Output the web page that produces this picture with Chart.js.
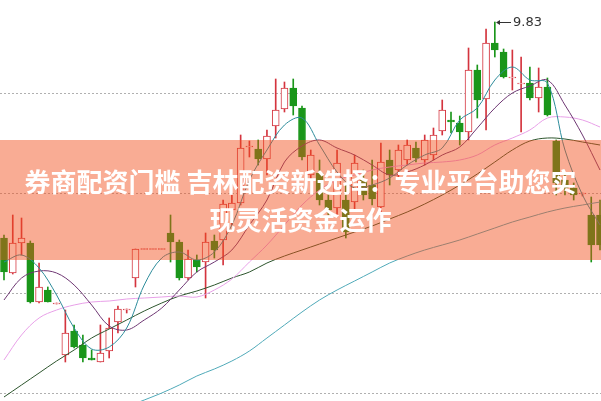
<!DOCTYPE html>
<html>
<head>
<meta charset="utf-8">
<script src="https://cdn.jsdelivr.net/npm/chart.js@4.4.0/dist/chart.umd.min.js"></script>
<style>
  html, body { margin: 0; padding: 0; background: #fff; }
  #wrap { position: relative; width: 601px; height: 401px; overflow: hidden; }
  #kline { display: block; }
  #banner {
    position: absolute; left: 0; top: 140px; width: 601px; height: 120px;
    background: rgba(242, 79, 28, 0.47);
    display: flex; align-items: center; justify-content: center;
    text-align: center; color: #fff;
    font: bold 26px/38px "Noto Sans CJK SC", sans-serif;
  }
</style>
</head>
<body>
<div id="wrap">
  <canvas id="kline" width="601" height="401"></canvas>
  <div id="banner"><div>券商配资门槛 吉林配资新选择：专业平台助您实<br>现灵活资金运作</div></div>
</div>
<script>
// daily candles, index 0..68
const opens = [8.75, 8.575, 8.725, 8.725, 8.43, 8.49, 8.42, 8.165, 8.285, 8.215,
  8.15, 8.13, 8.185, 8.33, 8.39, 8.55, 8.695, 8.695, 8.695, 8.775,
  8.73, 8.55, 8.64, 8.63, 8.735, 8.74, 8.89, 8.925, 9.205, 9.195,
  9.145, 9.31, 9.395, 9.50, 9.40, 9.065, 9.075, 8.94, 8.90, 8.94,
  8.93, 9.04, 9.015, 8.905, 9.14, 9.09, 9.14, 9.20, 9.14, 9.165,
  9.285, 9.34, 9.325, 9.28, 9.59, 9.445, 9.725, 9.68, 9.55, 9.52,
  9.525, 9.45, 9.505, 9.235, 9.04, 9.00, 8.97, 8.865, 8.865];
const closes = [8.58, 8.725, 8.75, 8.43, 8.505, 8.43, 8.425, 8.275, 8.205, 8.15,
  8.14, 8.175, 8.30, 8.395, 8.395, 8.695, 8.695, 8.695, 8.695, 8.73,
  8.55, 8.645, 8.605, 8.73, 8.69, 8.92, 8.925, 9.20, 9.21, 9.145,
  9.26, 9.39, 9.50, 9.41, 9.155, 9.165, 8.94, 8.89, 9.125, 8.78,
  9.125, 8.965, 8.945, 9.13, 9.065, 9.19, 9.215, 9.15, 9.24, 9.265,
  9.39, 9.33, 9.28, 9.59, 9.44, 9.725, 9.69, 9.555, 9.555, 9.525,
  9.45, 9.505, 9.365, 9.025, 9.00, 8.965, 8.975, 8.715, 8.715];
const highs = [8.765, 8.865, 8.85, 8.735, 8.625, 8.505, 8.425, 8.39, 8.315, 8.265,
  8.19, 8.315, 8.35, 8.41, 8.395, 8.695, 8.695, 8.695, 8.695, 8.865,
  8.74, 8.69, 8.665, 8.775, 8.765, 8.94, 8.965, 9.265, 9.235, 9.24,
  9.29, 9.545, 9.53, 9.545, 9.41, 9.19, 9.14, 8.965, 9.19, 9.015,
  9.165, 9.09, 9.14, 9.225, 9.19, 9.215, 9.24, 9.23, 9.265, 9.30,
  9.44, 9.38, 9.36, 9.70, 9.615, 9.795, 9.83, 9.695, 9.69, 9.655,
  9.605, 9.60, 9.55, 9.24, 9.065, 9.025, 8.975, 8.955, 8.94];
const lows = [8.54, 8.57, 8.665, 8.425, 8.425, 8.43, 8.42, 8.13, 8.20, 8.13,
  8.14, 8.13, 8.15, 8.275, 8.375, 8.505, 8.695, 8.695, 8.695, 8.63,
  8.54, 8.54, 8.58, 8.45, 8.65, 8.615, 8.815, 8.915, 9.155, 9.115,
  9.065, 9.25, 9.38, 9.365, 9.14, 9.04, 8.915, 8.865, 8.855, 8.75,
  8.89, 8.94, 8.915, 8.79, 9.015, 9.05, 9.115, 9.13, 9.115, 9.14,
  9.265, 9.275, 9.215, 9.24, 9.35, 9.29, 9.655, 9.55, 9.49, 9.28,
  9.44, 9.38, 9.36, 8.965, 8.965, 8.94, 8.96, 8.63, 8.69];

const maDays = [0, 2, 4, 6, 8, 10, 12, 14, 16, 18, 20, 22, 24, 26, 28, 30, 32, 34,
  36, 38, 40, 42, 44, 46, 48, 50, 52, 54, 56, 58, 60, 62, 64, 66, 68];
const ma5 = [8.63, 8.665, 8.60, 8.465, 8.30, 8.195, 8.205, 8.30, 8.515, 8.65,
  8.68, 8.64, 8.68, 8.815, 9.04, 9.19, 9.315, 9.35, 9.215, 9.08,
  9.00, 9.015, 9.05, 9.115, 9.165, 9.20, 9.34, 9.40, 9.54, 9.605,
  9.54, 9.525, 9.19, 8.965, 8.815];
const ma10 = [8.44, 8.55, 8.585, 8.575, 8.515, 8.415, 8.31, 8.29, 8.34, 8.40,
  8.49, 8.58, 8.63, 8.69, 8.815, 8.94, 9.13, 9.21, 9.24, 9.20,
  9.165, 9.115, 9.065, 9.08, 9.115, 9.165, 9.205, 9.30, 9.40, 9.475,
  9.51, 9.54, 9.415, 9.265, 9.09];
const ma20 = [8.14, 8.265, 8.35, 8.39, 8.415, 8.43, 8.435, 8.445, 8.45, 8.455,
  8.46, 8.455, 8.49, 8.545, 8.63, 8.715, 8.815, 8.915, 8.99, 9.04,
  9.065, 9.09, 9.105, 9.115, 9.125, 9.13, 9.14, 9.165, 9.215, 9.25,
  9.29, 9.35, 9.355, 9.34, 9.305];
const ma30 = [7.955, 8.015, 8.075, 8.135, 8.19, 8.25, 8.295, 8.34, 8.385, 8.425,
  8.46, 8.485, 8.515, 8.55, 8.58, 8.625, 8.66, 8.69, 8.72, 8.75,
  8.78, 8.81, 8.845, 8.88, 8.92, 8.965, 9.015, 9.07, 9.13, 9.19,
  9.235, 9.25, 9.245, 9.23, 9.215];
const ma60 = [null, null, null, null, null, null, 7.865, 7.905, 7.94, 7.975,
  8.015, 8.06, 8.095, 8.135, 8.185, 8.25, 8.315, 8.38, 8.44, 8.49,
  8.535, 8.58, 8.625, 8.66, 8.69, 8.715, 8.74, 8.77, 8.80, 8.83,
  8.855, 8.88, 8.90, 8.915, 8.93];

const gridPrices = [9.475, 8.975, 8.475, 7.975];

const upColor = "rgb(212, 52, 62)";
const downColor = "rgb(26, 150, 26)";

const isUp = opens.map((o, i) => closes[i] >= o);
const candleColor = isUp.map((up) => (up ? upColor : downColor));

// flat days still need a visible 1px dash
const bodies = opens.map((o, i) => {
  let lo = Math.min(o, closes[i]);
  let hi = Math.max(o, closes[i]);
  if (hi - lo < 0.005) {
    const mid = (hi + lo) / 2;
    lo = mid - 0.0025;
    hi = mid + 0.0025;
  }
  return { x: i, y: [lo, hi] };
});
const wicks = highs.map((h, i) => ({ x: i, y: [lows[i], h] }));

function maLine(values, color) {
  return {
    type: "line",
    data: values.map((v, k) => ({ x: maDays[k], y: v })),
    borderColor: color,
    borderWidth: 1,
    pointRadius: 0,
    tension: 0.35,
    fill: false,
    order: 0,
  };
}

const dottedGrid = {
  id: "dottedGrid",
  beforeDatasetsDraw(chart) {
    const { ctx, chartArea, scales: { y } } = chart;
    ctx.save();
    ctx.strokeStyle = "#b0b0b0";
    ctx.lineWidth = 1;
    ctx.setLineDash([2, 2]);
    gridPrices.forEach((p) => {
      const py = Math.round(y.getPixelForValue(p)) + 0.5;
      ctx.beginPath();
      ctx.moveTo(chartArea.left, py);
      ctx.lineTo(chartArea.right, py);
      ctx.stroke();
    });
    ctx.restore();
  },
};

// arrow + value at the highest high
const highLabel = {
  id: "highLabel",
  afterDatasetsDraw(chart) {
    const { ctx, scales: { x, y } } = chart;
    let top = 0;
    highs.forEach((h, i) => {
      if (h > highs[top]) top = i;
    });
    const px = Math.round(x.getPixelForValue(top)) + 1;
    const py = Math.round(y.getPixelForValue(highs[top])) + 0.5;
    ctx.save();
    ctx.strokeStyle = "#333";
    ctx.fillStyle = "#333";
    ctx.lineWidth = 1;
    ctx.beginPath();
    ctx.moveTo(px + 2, py);
    ctx.lineTo(px + 15, py);
    ctx.stroke();
    ctx.beginPath();
    ctx.moveTo(px, py);
    ctx.lineTo(px + 4, py - 2.5);
    ctx.lineTo(px + 4, py + 2.5);
    ctx.closePath();
    ctx.fill();
    ctx.font = '13px "DejaVu Sans", sans-serif';
    ctx.textBaseline = "middle";
    ctx.fillText(highs[top].toFixed(2), px + 17, py);
    ctx.restore();
  },
};

new Chart(document.getElementById("kline"), {
  type: "bar",
  data: {
    datasets: [
      maLine(ma5, "rgb(45, 140, 155)"),
      maLine(ma10, "rgb(110, 55, 115)"),
      maLine(ma20, "rgb(232, 160, 232)"),
      maLine(ma30, "rgb(45, 85, 45)"),
      maLine(ma60, "rgb(80, 170, 185)"),
      {
        data: bodies,
        grouped: false,
        barThickness: 7,
        borderWidth: 1,
        borderSkipped: false,
        backgroundColor: isUp.map((up) => (up ? "#ffffff" : downColor)),
        borderColor: candleColor,
        order: 1,
      },
      {
        data: wicks,
        grouped: false,
        barThickness: 1,
        borderWidth: 0,
        backgroundColor: candleColor,
        order: 2,
      },
    ],
  },
  options: {
    responsive: false,
    animation: false,
    devicePixelRatio: 1,
    layout: { padding: 0 },
    plugins: { legend: { display: false }, tooltip: { enabled: false } },
    scales: {
      x: { type: "linear", display: false, min: -0.456, max: 68.114, offset: false },
      y: { display: false, min: 7.935, max: 9.94 },
    },
  },
  plugins: [dottedGrid, highLabel],
});
</script>
</body>
</html>
